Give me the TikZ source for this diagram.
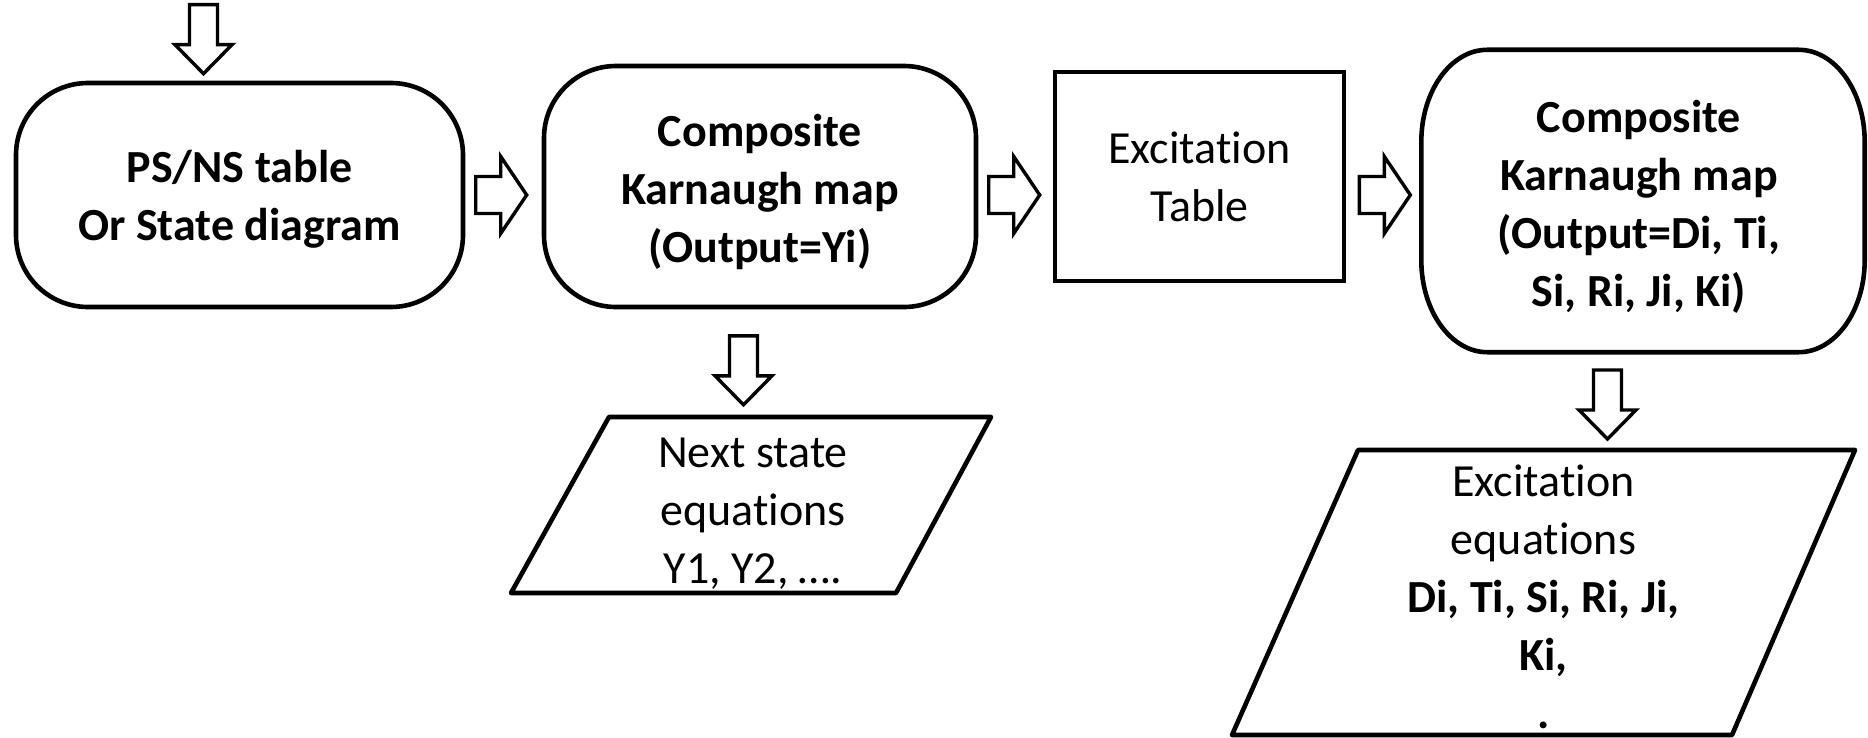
\documentclass[tikz,border=0pt]{standalone}
\usepackage{fontspec}
\setmainfont{Carlito}[Ligatures=NoCommon]
\usetikzlibrary{calc}
\newcommand\flowfont{\fontsize{46}{58}\selectfont}
\begin{document}
\begin{tikzpicture}[x=1pt,y=1pt,
  edge/.style={draw=black, line width=4.6pt},
  roundbox/.style={edge, rounded corners=72pt, inner sep=0pt},
  plainbox/.style={edge, align=center, inner sep=0pt, font=\flowfont},
  label/.style={align=center, inner sep=0pt, font=\flowfont},
  boldlabel/.style={label, font=\flowfont\bfseries},
  blockarrow/.style={draw=black, fill=white, line width=3.4pt, line join=miter}
]
\useasboundingbox (0,0) rectangle (1868,-738);

% main row of blocks
\node[roundbox, minimum width=447pt, minimum height=224pt] (psns) at (239.5,-195) {};
\node[boldlabel] (psnstext) at ($(psns)+(0,-4)$) {PS/NS table\\Or State diagram};
\node[roundbox, minimum width=432pt, minimum height=241pt] (kmapy) at (760,-186.5) {};
\node[boldlabel] (kmapytext) at ($(kmapy)+(0,-5)$)
  {Composite\\Karnaugh map\\(Output=Yi)};
\node[plainbox, minimum width=289pt, minimum height=209pt] (exctab) at (1199.5,-176.5)
  {Excitation\\Table};
\node[minimum width=443pt, minimum height=302pt, inner sep=0pt] (kmapff) at (1643,-201) {};
\def\rx{66}\def\ry{92}
\draw[edge] ($(kmapff.north west)+(\rx,0)$) -- ($(kmapff.north east)+(-\rx,0)$)
  arc[start angle=90, end angle=0, x radius=\rx, y radius=\ry]
  -- ($(kmapff.south east)+(0,\ry)$)
  arc[start angle=0, end angle=-90, x radius=\rx, y radius=\ry]
  -- ($(kmapff.south west)+(\rx,0)$)
  arc[start angle=-90, end angle=-180, x radius=\rx, y radius=\ry]
  -- ($(kmapff.north west)+(0,-\ry)$)
  arc[start angle=180, end angle=90, x radius=\rx, y radius=\ry] -- cycle;
\node[boldlabel] (kmapfftext) at ($(kmapff)+(-4,-6)$)
  {Composite\\Karnaugh map\\(Output=Di, Ti,\\Si, Ri, Ji, Ki)};

% output parallelograms
\node[minimum width=10pt, minimum height=176pt, inner sep=0pt] (nexteq) at (752,-505) {};
\node[label] (nexteqtext) at ($(nexteq)+(1,-9)$) {Next state\\equations\\Y1, Y2, ….};
\draw[edge, line join=round] ($(nexteq)+(-143,88)$) -- ($(nexteq)+(239,88)$)
  -- ($(nexteq)+(144,-88)$) -- ($(nexteq)+(-241,-88)$) -- cycle;
\node[label] (exceq) at (1543.5,-597)
  {Excitation\\equations\\\textbf{Di, Ti, Si, Ri, Ji,}\\\textbf{Ki,}\\\textbf{.}};
\draw[edge, line join=round] ($(exceq)+(-185.5,147)$) -- ($(exceq)+(311.5,147)$)
  -- ($(exceq)+(188.5,-138)$) -- ($(exceq)+(-311.5,-138)$) -- cycle;

% block arrows between the stages: tails at named coordinates
\coordinate (in)  at ($(psns.north)+(-36,76)$);
\coordinate (a1)  at ($(kmapy.west)+(-66,-8.5)$);
\coordinate (a2)  at ($(exctab.west)+(-64,-18.5)$);
\coordinate (a3)  at ($(kmapff.west)+(-62,6)$);
\coordinate (d1)  at ($(nexteq.north)+(-8.5,81)$);
\coordinate (d2)  at ($(exceq)+(64,227)$);
\foreach \t in {a1,a2,a3}
  \draw[blockarrow] (\t) ++(0,18.5) -- ++(25,0) -- ++(0,20) -- ++(26,-38.5)
    -- ++(-26,-38.5) -- ++(0,20) -- ++(-25,0) -- cycle;
\foreach \t in {in,d1,d2}
  \draw[blockarrow] (\t) ++(-14,0) -- ++(0,-40) -- ++(-14.5,0) -- ++(28.5,-29)
    -- ++(28.5,29) -- ++(-14.5,0) -- ++(0,40) -- cycle;
\end{tikzpicture}
\end{document}
